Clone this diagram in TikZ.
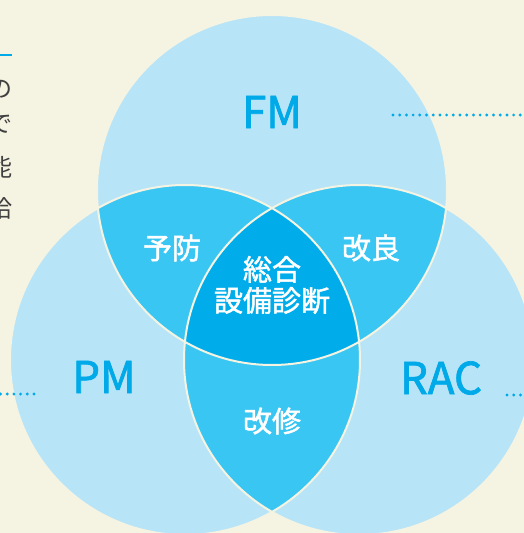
\documentclass[tikz,border=0pt]{standalone}
\usepackage{fontspec}
\newfontfamily\cjk{Noto Sans CJK JP}
\newfontfamily\cjkmid{Noto Sans CJK JP}[FakeBold=1.6]
\usetikzlibrary{positioning}
\definecolor{paper}{HTML}{F5F3E1}
\definecolor{venn}{HTML}{B8E4F8}
\definecolor{vennpair}{HTML}{3AC6F2}
\definecolor{venncore}{HTML}{00ADEA}
\definecolor{vennblue}{HTML}{00A9E8}
\tikzset{
  setlabel/.style = {font=\cjkmid\fontsize{44}{44}\selectfont,
    text=vennblue, inner sep=0pt},
  partlabel/.style = {font=\cjkmid\fontsize{29}{31}\selectfont,
    text=white, inner sep=0pt, align=center},
  sidechar/.style = {font=\cjk\fontsize{24}{24}\selectfont,
    text=black!75, inner sep=0pt},% cut-off column of text
  leader/.style = {vennblue, line width=3.2pt,
    dash pattern=on 0pt off 6.7pt, line cap=round},
  rim/.style = {draw=paper, line width=2pt}
}

\begin{document}
\begin{tikzpicture}[x=1pt, y=-1pt]
\clip (0,0) rectangle (524,533);
\fill[paper] (0,0) rectangle (524,533);
% circle centres
\coordinate (fmc) at (272,190);
\coordinate (pmc) at (185,360);
\coordinate (racc) at (359,360);
% three sets
\foreach \c in {fmc,pmc,racc}
  \fill[venn] (\c) circle [radius=175pt];
% pairwise overlaps
\begin{scope}
  \clip (fmc) circle [radius=175pt];
  \fill[vennpair] (pmc) circle [radius=175pt];
  \fill[vennpair] (racc) circle [radius=175pt];
\end{scope}
\begin{scope}
  \clip (pmc) circle [radius=175pt];
  \fill[vennpair] (racc) circle [radius=175pt];
\end{scope}
% centre
\begin{scope}
  \clip (fmc) circle [radius=175pt];
  \clip (pmc) circle [radius=175pt];
  \fill[venncore] (racc) circle [radius=175pt];
\end{scope}
\foreach \c in {fmc,pmc,racc}
  \draw[rim] (\c) circle [radius=175pt];

% labels
\node[setlabel] (fm) at (272,112) {FM};
\node[setlabel] (pm) at (104,377) {PM};
\node[setlabel] (rac) at (441,378) {RAC};
\node[partlabel] (yobo) at (172,248) {予防};
\node[partlabel] (kairyo) at (371,248) {改良};
\node[partlabel] (sogo) at (272,285) {総合\\設備診断};
\node[partlabel] (kaishu) at (272,421) {改修};

% side text
\node[sidechar] (c1) at (1,89) {の};
\node[sidechar] (c2) at (1,124) {で};
\node[sidechar] (c3) at (1,167) {能};
\node[sidechar] (c4) at (1,208) {給};
\coordinate (barl) at (-2,55);
\coordinate (barr) at (12,55);
\draw[vennblue, line width=2.2pt] (barl) -- (barr);

% leaders
\coordinate (fmlead) at (393,115);
\coordinate (fmout) at (530,115);
\coordinate (pmlead) at (34,394);
\coordinate (pmout) at (-5,394);
\coordinate (raclead) at (507,395);
\coordinate (racout) at (530,395);
\draw[leader] (fmlead) -- (fmout);
\draw[leader] (pmlead) -- (pmout);
\draw[leader] (raclead) -- (racout);
\end{tikzpicture}
\end{document}
